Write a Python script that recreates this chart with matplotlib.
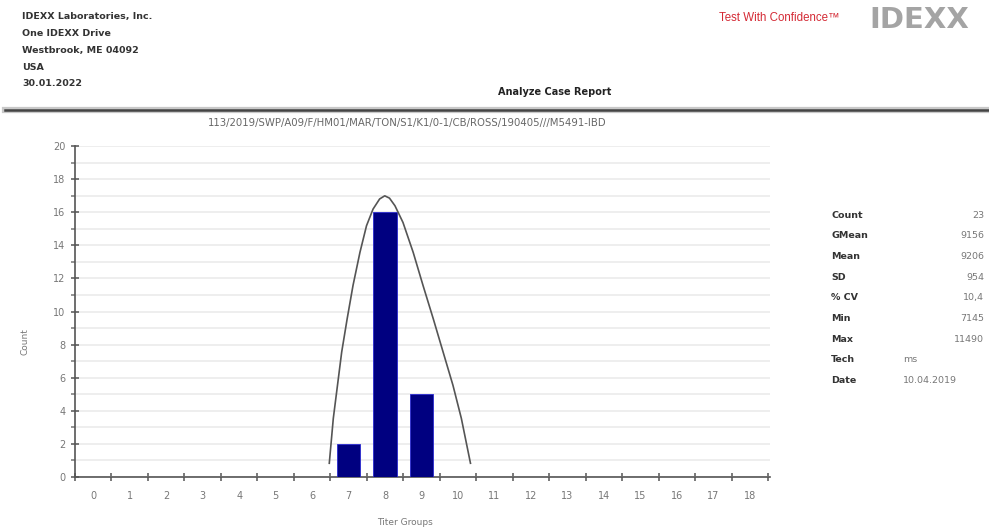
import numpy as np
import matplotlib.pyplot as plt
from matplotlib.lines import Line2D
from matplotlib.ticker import MultipleLocator, FixedLocator

groups = list(range(19))
counts = [0, 0, 0, 0, 0, 0, 0, 2, 16, 5, 0, 0, 0, 0, 0, 0, 0, 0, 0]

# hand-drawn curve over the bars
curve_x = [6.47, 6.58, 6.81, 6.96, 7.12, 7.31, 7.49, 7.67, 7.85, 7.99, 8.12,
           8.27, 8.49, 8.77, 9.04, 9.32, 9.59, 9.86, 10.09, 10.34]
curve_y = [0.83, 3.54, 7.55, 9.56, 11.57, 13.57, 15.18, 16.19, 16.8, 16.99, 16.85,
           16.39, 15.38, 13.57, 11.57, 9.56, 7.55, 5.54, 3.54, 0.83]

header_lines = ["IDEXX Laboratories, Inc.", "One IDEXX Drive", "Westbrook, ME 04092",
                "USA", "30.01.2022"]
case_id = "113/2019/SWP/A09/F/HM01/MAR/TON/S1/K1/0-1/CB/ROSS/190405///M5491-IBD"
stat_labels = ["Count", "GMean", "Mean", "SD", "% CV", "Min", "Max", "Tech", "Date"]
stat_values = ["23", "9156", "9206", "954", "10,4", "7145", "11490", "ms", "10.04.2019"]

W, H = 989, 531
fig = plt.figure(figsize=(W / 100, H / 100), dpi=100)
plt.rcParams['font.family'] = ['DejaVu Sans']


def fx(px):
    return px / W


def fy(py):
    return 1 - py / H


# header
for i, line in enumerate(header_lines):
    fig.text(fx(22), fy(16.7 + i * 16.8), line, fontsize=6.8, fontweight='bold',
             color='#333333', va='center', ha='left')

fig.text(fx(719), fy(18), "Test With Confidence\u2122", fontsize=8.3,
         family='Liberation Sans', color='#d42a35', va='center', ha='left')
fig.text(fx(869), fy(19.5), "IDEXX", fontsize=21, fontweight='bold',
         color='#a4a4a4', va='center', ha='left')
fig.text(fx(555), fy(92), "Analyze Case Report", fontsize=7, fontweight='bold',
         color='#222222', va='center', ha='center')

fig.add_artist(Line2D([fx(5), fx(989)], [fy(110), fy(110)], color='#c8c8c8', lw=4.5))
fig.add_artist(Line2D([fx(5), fx(989)], [fy(110), fy(110)], color='#444444', lw=1.8))

fig.text(fx(407), fy(123), case_id, fontsize=7.3, color='#666666',
         va='center', ha='center')

# chart
ax = fig.add_axes([fx(75), fy(477), fx(770) - fx(75), fy(146) - fy(477)])
ax.bar(groups, counts, width=0.64, color='#000080', edgecolor='#2a2ad0', linewidth=0.6, zorder=3)
ax.plot(curve_x, curve_y, color='#555555', lw=1.2, zorder=4)

ax.set_xlim(-0.5, 18.55)
ax.set_ylim(0, 20)

ax.xaxis.set_major_locator(FixedLocator(groups))
ax.xaxis.set_minor_locator(FixedLocator(np.arange(-0.5, 19, 1)))
ax.set_xticklabels([str(g) for g in groups])
ax.tick_params(axis='x', which='major', length=0, pad=10, labelsize=7, labelcolor='#777777')
ax.tick_params(axis='x', which='minor', direction='inout', length=6, width=1.1, color='#555555')

ax.yaxis.set_major_locator(MultipleLocator(2))
ax.yaxis.set_minor_locator(MultipleLocator(1))
ax.tick_params(axis='y', which='major', direction='inout', length=6, width=1.1,
               color='#555555', pad=4, labelsize=7, labelcolor='#777777')
ax.tick_params(axis='y', which='minor', direction='out', length=3, width=1.1, color='#777777')

ax.grid(True, which='both', axis='y', color='#ebebeb', lw=1.2, zorder=0)
ax.set_axisbelow(True)
for s in ['top', 'right']:
    ax.spines[s].set_visible(False)
for s in ['left', 'bottom']:
    ax.spines[s].set_color('#555555')
    ax.spines[s].set_linewidth(1.2)

ax.set_ylabel("Count", fontsize=6.5, color='#777777')
ax.yaxis.set_label_coords(-0.065, 0.41)
ax.set_xlabel("Titer Groups", fontsize=6.5, color='#777777')
ax.xaxis.set_label_coords(0.475, -0.125)

# statistics panel
row_y = [215, 235.7, 256.7, 277.3, 297.7, 318.3, 339, 360, 380.7]
for lab, val, py in zip(stat_labels, stat_values, row_y):
    fig.text(fx(831), fy(py), lab, fontsize=6.8, fontweight='bold', color='#333333',
             va='center', ha='left')
    if lab in ("Tech", "Date"):
        fig.text(fx(903), fy(py), val, fontsize=6.8, color='#777777', va='center', ha='left')
    else:
        fig.text(fx(984), fy(py), val, fontsize=6.8, color='#777777', va='center', ha='right')

fig.savefig("out.png", dpi=100, facecolor='white')
